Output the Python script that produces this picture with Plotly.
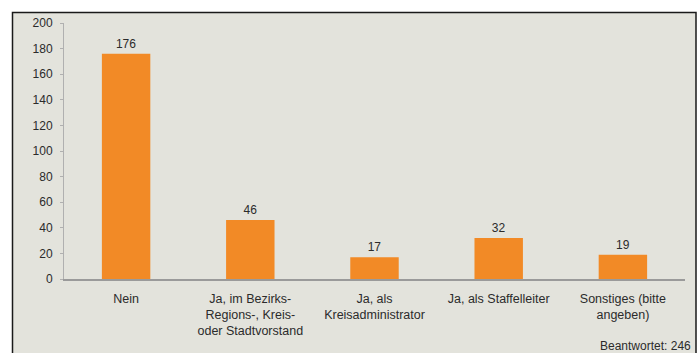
import plotly.graph_objects as go

# Survey answers (multiple answers allowed)
categories = [
    "Nein",
    "Ja, im Bezirks-<br>Regions-, Kreis-<br>oder Stadtvorstand",
    "Ja, als<br>Kreisadministrator",
    "Ja, als Staffelleiter",
    "Sonstiges (bitte<br>angeben)",
]
counts = [176, 46, 17, 32, 19]
y_ticks = list(range(0, 201, 20))
answered_note = "Beantwortet: 246"

W, H = 699, 353
L, R, T, B = 64, 14, 23, 74
pw, ph = W - L - R, H - T - B


def px_x(px):
    return (px - L) / pw


def px_y(py):
    return (H - B - py) / ph


fig = go.Figure(
    go.Bar(
        x=categories,
        y=counts,
        marker=dict(color="#f28a26", line=dict(width=0)),
        text=[str(v) for v in counts],
        textposition="outside",
        textfont=dict(family="Liberation Sans, Arial", size=12, color="#2b2b2b"),
        cliponaxis=False,
    )
)

fig.update_layout(
    width=W,
    height=H,
    margin=dict(l=L, r=R, t=T, b=B),
    paper_bgcolor="white",
    plot_bgcolor="rgba(0,0,0,0)",
    bargap=0.61,
    showlegend=False,
    font=dict(family="Liberation Sans, Arial", size=12, color="#2b2b2b"),
    shapes=[
        dict(
            type="rect",
            xref="paper",
            yref="paper",
            x0=px_x(12.5),
            x1=px_x(696),
            y0=px_y(12.5),
            y1=px_y(380),
            fillcolor="#e3e3dc",
            line=dict(color="#1a1a1a", width=1.5),
            layer="below",
        )
    ],
    annotations=[
        dict(
            text=answered_note,
            xref="paper",
            yref="paper",
            x=px_x(693),
            y=px_y(346),
            xanchor="right",
            yanchor="middle",
            showarrow=False,
            font=dict(size=12, color="#2b2b2b"),
        )
    ],
)

fig.update_xaxes(
    showline=True,
    linecolor="#9a9a9a",
    linewidth=1.5,
    ticks="",
    showgrid=False,
    ticklabelstandoff=7,
    tickfont=dict(size=12.5, color="#2b2b2b"),
)
fig.update_yaxes(
    range=[0, 200],
    tickvals=y_ticks,
    showline=True,
    linecolor="#b0b0b0",
    linewidth=1,
    ticks="outside",
    ticklen=3,
    tickcolor="#b0b0b0",
    showgrid=False,
    zeroline=False,
    ticklabelstandoff=5,
    tickfont=dict(size=12, color="#2b2b2b"),
)

fig.write_html("out.html")
